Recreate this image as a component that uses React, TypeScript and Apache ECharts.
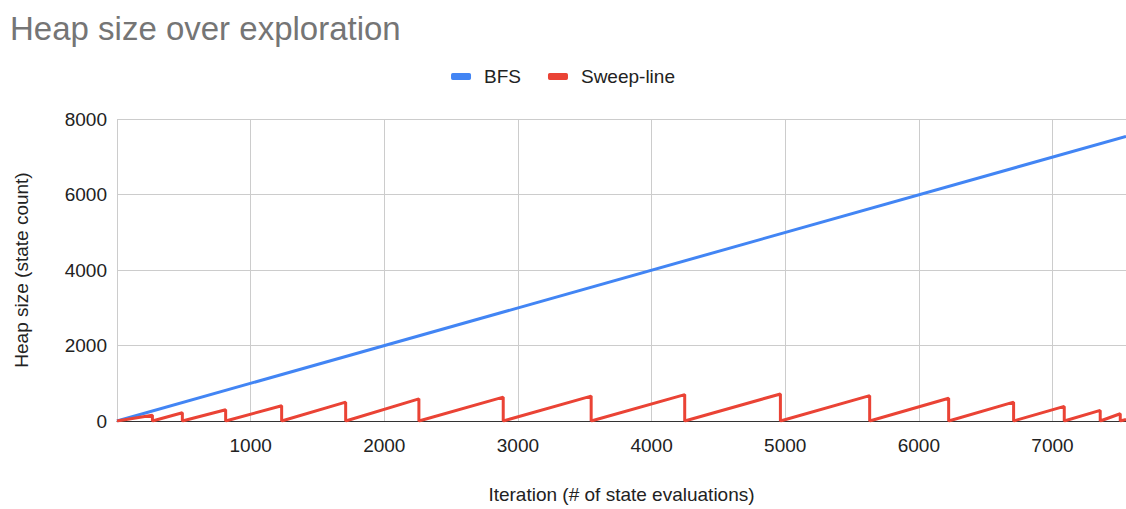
import React, { useEffect, useRef } from "react";
import * as echarts from "echarts";

const title = "Heap size over exploration";
const seriesNames = ["BFS", "Sweep-line"];
const xAxisName = "Iteration (# of state evaluations)";
const yAxisName = "Heap size (state count)";

const bfsX = [0, 7550];
const bfsY = [0, 7540];

// Sweep-line: heap resets at these iterations after reaching these peaks
const sweepResetX = [265, 489, 813, 1232, 1711, 2259, 2890, 3548, 4248, 4964, 5632, 6223, 6709, 7088, 7357, 7507];
const sweepPeak = [150, 220, 297, 403, 500, 587, 632, 660, 700, 716, 672, 603, 500, 387, 280, 192];
const sweepEnd = [7550, 40];

const xMax = 7550;
const yMax = 8000;

export default function App() {
  const ref = useRef<HTMLDivElement>(null);
  useEffect(() => {
    if (!ref.current) return;
    const chart = echarts.init(ref.current, undefined, { renderer: "svg" });
    const bfsData = bfsX.map((x, i) => [x, bfsY[i]]);
    const sweepData: number[][] = [[0, 0]];
    sweepResetX.forEach((x, i) => {
      sweepData.push([x, sweepPeak[i]]);
      sweepData.push([x, 0]);
    });
    sweepData.push(sweepEnd);
    const font = "Arial, 'Liberation Sans', sans-serif";
    const fs = 19;
    chart.setOption({
      animation: false,
      textStyle: { fontFamily: font },
      title: {
        text: title,
        left: 5,
        top: 7,
        textStyle: { fontSize: 33, fontWeight: "normal", color: "#757575", fontFamily: font },
      },
      legend: {
        top: 62,
        left: "center",
        itemWidth: 20,
        itemHeight: 7,
        itemGap: 27,
        icon: "roundRect",
        textStyle: { fontSize: fs, color: "#222", fontFamily: font, padding: [0, 0, 0, 8] },
        data: seriesNames,
      },
      grid: { left: 117, right: 0, top: 119, bottom: 86, containLabel: false },
      xAxis: {
        type: "value",
        min: 0,
        max: xMax,
        interval: 1000,
        name: xAxisName,
        nameLocation: "middle",
        nameGap: 64,
        nameTextStyle: { fontSize: fs, color: "#222", fontFamily: font },
        axisLine: { show: true, lineStyle: { color: "#333", width: 1 } },
        axisTick: { show: false },
        axisLabel: {
          fontSize: fs,
          color: "#222",
          margin: 15,
          showMinLabel: false,
          showMaxLabel: false,
          fontFamily: font,
          formatter: (v: number) => String(v),
        },
        splitLine: { show: true, lineStyle: { color: "#ccc", width: 1 } },
      },
      yAxis: {
        type: "value",
        min: 0,
        max: yMax,
        interval: 2000,
        name: yAxisName,
        nameLocation: "middle",
        nameGap: 86,
        nameTextStyle: { fontSize: fs, color: "#222", fontFamily: font },
        axisLine: { show: false },
        axisTick: { show: false },
        axisLabel: {
          fontSize: fs,
          color: "#222",
          margin: 10,
          fontFamily: font,
          formatter: (v: number) => String(v),
        },
        splitLine: { show: true, lineStyle: { color: "#ccc", width: 1 } },
      },
      series: [
        {
          name: seriesNames[0],
          type: "line",
          data: bfsData,
          showSymbol: false,
          symbol: "none",
          lineStyle: { color: "#4285F4", width: 3 },
          itemStyle: { color: "#4285F4" },
        },
        {
          name: seriesNames[1],
          type: "line",
          data: sweepData,
          showSymbol: false,
          symbol: "none",
          lineStyle: { color: "#EA4335", width: 3 },
          itemStyle: { color: "#EA4335" },
        },
      ],
    });
    return () => chart.dispose();
  }, []);
  return (
    <div
      ref={ref}
      style={{ position: "fixed", left: 0, top: 0, width: 1126, height: 509, background: "#fff" }}
    />
  );
}
